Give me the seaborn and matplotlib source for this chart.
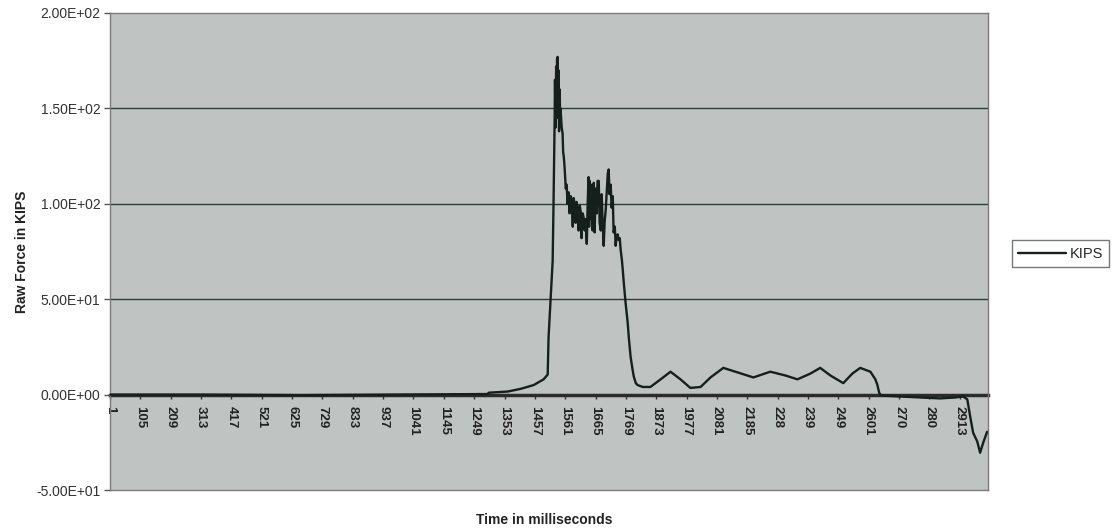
import matplotlib
matplotlib.use("Agg")
import matplotlib.pyplot as plt
import seaborn as sns
import pandas as pd

# ---- data (sample index ~ milliseconds, force in KIPS) ----
samples = [1, 313, 655, 997, 1295, 1299, 1364, 1408, 1453, 1487, 1501, 1504, 1511, 1518, 1521,
           1525, 1526, 1528, 1530, 1532, 1533, 1535, 1537, 1538, 1540, 1542, 1544, 1545, 1549,
           1552, 1554, 1556, 1559, 1563, 1566, 1569, 1573, 1576, 1580, 1583, 1587, 1590, 1593,
           1597, 1600, 1604, 1607, 1611, 1614, 1617, 1621, 1624, 1628, 1631, 1635, 1638, 1641,
           1643, 1645, 1648, 1652, 1655, 1659, 1662, 1665, 1669, 1672, 1676, 1679, 1683, 1686,
           1689, 1693, 1696, 1700, 1703, 1707, 1710, 1713, 1717, 1720, 1724, 1727, 1731, 1734,
           1737, 1741, 1744, 1748, 1751, 1755, 1758, 1761, 1768, 1775, 1779, 1785, 1792, 1796,
           1803, 1809, 1827, 1853, 1888, 1922, 1956, 1990, 2025, 2059, 2103, 2144, 2206, 2264,
           2316, 2357, 2401, 2435, 2470, 2514, 2545, 2572, 2607, 2624, 2631, 2637, 2641, 2648,
           2709, 2778, 2846, 2898, 2925, 2939, 2949, 2959, 2973, 2983, 2994, 3007]
kips = [0.0, 0.0, -0.3, 0.0, 0.3, 1.0, 1.6, 3.0, 5.0, 8.0, 10.5, 30, 50, 70, 100,
        146, 165, 140, 172, 150, 176, 177, 145, 170, 138, 160, 142, 150, 140,
        137, 127, 125, 119, 108, 110, 100, 106, 95, 104, 102, 88, 103, 100,
        90, 101, 97, 86, 99, 96, 82, 95, 93, 86, 92, 79, 100, 114,
        88, 112, 92, 110, 86, 111, 85, 108, 95, 112, 112, 90, 86, 105,
        92, 78, 90, 97, 105, 116, 118, 105, 110, 98, 104, 85, 88, 78,
        83, 84, 81, 82, 76, 71, 66, 60, 48, 38, 30, 20, 13, 9.5,
        6, 5, 4, 4, 8, 12, 8, 3.5, 4, 9, 14, 12, 9, 12,
        10, 8, 11, 14, 10, 6, 11, 14, 12, 8, 5, 1, 0, -0.5,
        -1, -1.5, -2, -1.5, -1, -2.5, -11.5, -20, -24.5, -30.5, -25, -19.5]

x_ticks = [1, 105, 209, 313, 417, 521, 625, 729, 833, 937, 1041, 1145, 1249, 1353, 1457,
           1561, 1665, 1769, 1873, 1977, 2081, 2185, 2289, 2393, 2497, 2601, 2705, 2809, 2913]
x_labels = ["1", "105", "209", "313", "417", "521", "625", "729", "833", "937", "1041", "1145",
            "1249", "1353", "1457", "1561", "1665", "1769", "1873", "1977", "2081", "2185",
            "228", "239", "249", "2601", "270", "280", "2913"]
y_ticks = [-50, 0, 50, 100, 150, 200]
y_labels = ["-5.00E+01", "0.00E+00", "5.00E+01", "1.00E+02", "1.50E+02", "2.00E+02"]

df = pd.DataFrame({"Time": samples, "KIPS": kips})

sns.set_theme(style="white")
plt.rcParams['font.family'] = ['Liberation Sans', 'DejaVu Sans']

fig = plt.figure(figsize=(11.17, 5.32), dpi=100)
ax = fig.add_axes([110 / 1117, 1 - 490 / 532, (988 - 110) / 1117, (490 - 13) / 532])
ax.set_facecolor("#bfc3c2")

for g in [50, 100, 150]:
    ax.axhline(g, color="#2e3d38", lw=1.0, zorder=1)

sns.lineplot(data=df, x="Time", y="KIPS", ax=ax, color="#151f1b", lw=1.7,
             estimator=None, sort=False, label="KIPS", zorder=3)

ax.set_xlim(1, 3010)
ax.set_ylim(-50, 200)
ax.set_yticks(y_ticks)
ax.set_yticklabels(y_labels, fontsize=10, color="#333333")
ax.tick_params(axis="y", direction="out", length=4, width=1, color="#555555", pad=3, left=True)
ax.tick_params(axis="x", bottom=False, labelbottom=False)
ax.set_xlabel("")
ax.set_ylabel("Raw Force in KIPS", fontsize=10, fontweight="bold", color="#222222", labelpad=5)

for s in ax.spines.values():
    s.set_color("#7a7a7a")
    s.set_linewidth(1.0)

# category axis crossing at zero
sec = ax.secondary_xaxis(0.2)
sec.set_xticks(x_ticks)
sec.set_xticklabels(x_labels, rotation=-90, fontsize=9.5, fontweight="bold", color="#222222")
sec.tick_params(axis="x", length=3, width=1, color="#333333", pad=5)
sec.spines["bottom"].set_color("#2b2b2b")
sec.spines["bottom"].set_linewidth(2.5)

fig.text(544 / 1117, 1 - 520 / 532, "Time in milliseconds", ha="center", va="center",
         fontsize=10, fontweight="bold", color="#222222")

leg = ax.legend(loc="center left", bbox_to_anchor=(1.027, 0.495), frameon=True, fontsize=10.5,
                handlelength=3.3, handletextpad=0.2, borderpad=0.45, borderaxespad=0,
                fancybox=False)
leg.get_frame().set_edgecolor("#555555")
leg.get_frame().set_linewidth(1.0)
leg.get_frame().set_facecolor("white")

fig.savefig("out.png", dpi=100, facecolor="white")
